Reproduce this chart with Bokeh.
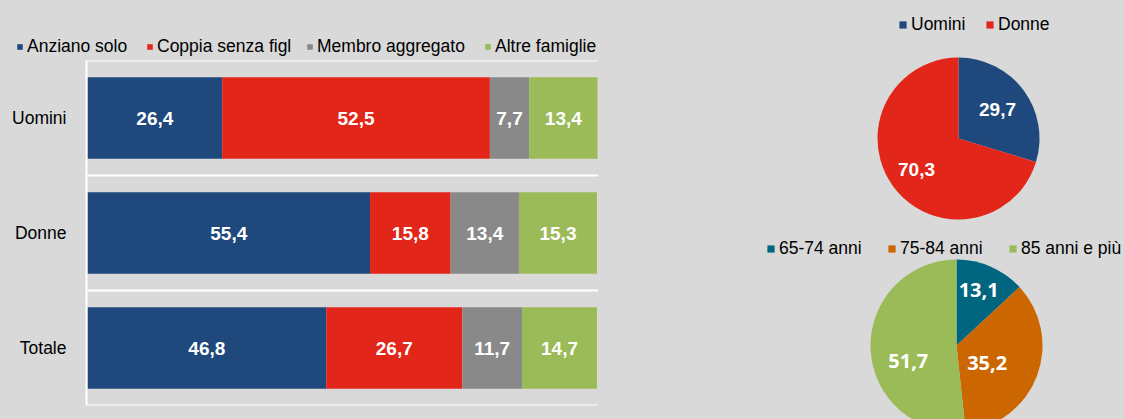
import numpy as np
from bokeh.plotting import figure
from bokeh.models import Range1d, FactorRange, Legend, LegendItem, ColumnDataSource
from bokeh.layouts import row, column
from bokeh.embed import file_html
from bokeh.resources import INLINE
from bokeh.core.properties import value

# ---------------- data ----------------
categories = ["Uomini", "Donne", "Totale"]
series_labels = ["Anziano solo", "Coppia senza figl", "Membro aggregato", "Altre famiglie"]
anziano_solo = [26.4, 55.4, 46.8]
coppia_senza_figli = [52.5, 15.8, 26.7]
membro_aggregato = [7.7, 13.4, 11.7]
altre_famiglie = [13.4, 15.3, 14.7]

sex_labels = ["Uomini", "Donne"]
sex_values = [29.7, 70.3]

age_labels = ["65-74 anni", "75-84 anni", "85 anni e più"]
age_values = [13.1, 35.2, 51.7]

# ---------------- style ----------------
BG = "#d9d9d9"
FONT = "Liberation Sans"
FS = "17.5px"
bar_colors = ["#1f497d", "#e3261a", "#898989", "#9bbb59"]
sex_colors = ["#1f497d", "#e3261a"]
age_colors = ["#006680", "#cc6600", "#9bbb59"]


def fmt(v):
    return f"{v:.1f}".replace(".", ",")


def blank_fig(width, height, **kw):
    p = figure(width=width, height=height, x_range=Range1d(0, width), y_range=Range1d(0, height),
               output_backend="svg", toolbar_location=None, x_axis_location=None,
               y_axis_location=None, title=None, min_border=0, frame_align=False,
               background_fill_color=BG, border_fill_color=BG, outline_line_color=None, **kw)
    p.xgrid.visible = False
    p.ygrid.visible = False
    return p


def add_legend_item(fig, renderer, label, loc, glyph, index=None):
    lg = Legend(items=[LegendItem(label=label, renderers=[renderer], index=index)],
                location=loc, orientation="horizontal", glyph_width=glyph, glyph_height=glyph,
                label_standoff=4, padding=0, margin=0, spacing=0, border_line_color=None,
                background_fill_alpha=0, label_text_font=FONT, label_text_font_size=FS,
                label_text_color="#000000", label_height=glyph)
    fig.add_layout(lg, "center")


# ---------------- legend strip above the bars ----------------
leg_fig = blank_fig(740, 58)
for lab, col, x in zip(series_labels, bar_colors, [16, 146, 306, 484]):
    # zero-size swatch renderer, only used to draw the legend key
    swatch = leg_fig.hbar(y=[0], right=[0], height=0, fill_color=col, line_color=None)
    add_legend_item(leg_fig, swatch, lab, (x, 1), 7)

# ---------------- stacked bars ----------------
keys = ["anziano", "coppia", "membro", "altre"]
src = ColumnDataSource(dict(cat=categories, anziano=anziano_solo, coppia=coppia_senza_figli,
                            membro=membro_aggregato, altre=altre_famiglie))

p1 = figure(width=740, height=361, y_range=FactorRange(*reversed(categories)),
            x_range=Range1d(-0.2, 100.2), output_backend="svg", toolbar_location=None,
            x_axis_location=None, title=None, frame_align=False,
            min_border_left=86, min_border_right=142, min_border_top=2, min_border_bottom=14,
            background_fill_color=BG, border_fill_color=BG, outline_line_color=None)
p1.xgrid.visible = False
p1.ygrid.visible = False

bar_renderers = p1.hbar_stack(keys, y="cat", height=0.71, color=bar_colors,
                              line_color=None, source=src)

# white separators between category bands
p1.hspan(y=[0, 1, 2, 3], line_color="white", line_width=2)

ax = p1.yaxis[0]
ax.axis_line_color = "white"
ax.axis_line_width = 2
ax.major_tick_line_color = None
ax.minor_tick_line_color = None
ax.major_label_standoff = 14
ax.major_label_text_font = FONT
ax.major_label_text_font_size = FS
ax.major_label_text_color = "#000000"

series_data = [anziano_solo, coppia_senza_figli, membro_aggregato, altre_famiglie]
lx, ly, lt = [], [], []
left = np.zeros(len(categories))
for vals in series_data:
    vals = np.array(vals)
    for c, l0, v in zip(categories, left, vals):
        lx.append(l0 + v / 2)
        ly.append(c)
        lt.append(fmt(v))
    left = left + vals
p1.text(x=lx, y=ly, text=lt, text_color="white", text_font=value(FONT),
        text_font_size="19px", text_font_style="bold", text_align="center",
        text_baseline="middle")


# ---------------- pies ----------------
def make_pie(width, height, cx, cy, radius, labels, vals, colors, fracs, nudges,
             lab_font, lab_size, leg_x, leg_y, glyph):
    p = blank_fig(width, height)
    v = np.array(vals, dtype=float)
    share = v / v.sum()
    ends = np.cumsum(share)
    starts = ends - share
    s = ColumnDataSource(dict(label=labels, value=vals, color=colors,
                              start=np.pi / 2 - starts * 2 * np.pi,
                              end=np.pi / 2 - ends * 2 * np.pi))
    r = p.wedge(x=cx, y=cy, radius=radius, radius_units="screen", start_angle="start",
                end_angle="end", direction="clock", fill_color="color", line_color=None, source=s)
    mid = np.pi / 2 - (starts + share / 2) * 2 * np.pi + np.radians(nudges)
    tx = cx + radius * np.array(fracs) * np.cos(mid)
    ty = cy + radius * np.array(fracs) * np.sin(mid)
    p.text(x=tx, y=ty, text=[fmt(x) for x in vals], text_color="white",
           text_font=value(lab_font), text_font_size=lab_size, text_font_style="bold",
           text_align="center", text_baseline="middle")
    for i, (lab, x) in enumerate(zip(labels, leg_x)):
        add_legend_item(p, r, lab, (x, leg_y), glyph, index=i)
    return p


p2 = make_pie(384, 220, 218, 82, 81, sex_labels, sex_values, sex_colors,
              [0.6, 0.645], [0, 0], FONT, "19px", [158, 245], 185, 9)
p3 = make_pie(384, 199, 216, 74, 86, age_labels, age_values, age_colors,
              [0.70, 0.41, 0.59], [2, -9, 15], "Open Sans", "20px", [26, 147, 268], 160, 9)

layout = row(column(leg_fig, p1), column(p2, p3))

html = file_html(layout, INLINE)
html = html.replace("</head>", "<style>html, body { background: #d9d9d9; }</style></head>", 1)
open("out.html", "w").write(html)
